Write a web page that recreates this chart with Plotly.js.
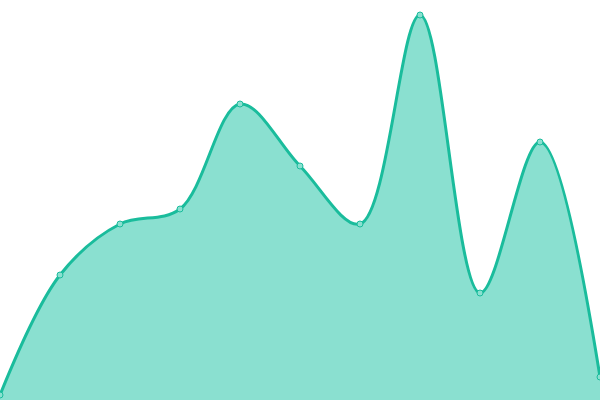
<!DOCTYPE html>
<html><head><meta charset="utf-8">
<script src="https://cdn.plot.ly/plotly-3.0.1.min.js"></script>
<style>html,body{margin:0;padding:0;background:#fff}#chart{width:600px;height:400px}</style>
</head><body><div id="chart"></div>
<script>
const xValues = [0, 1, 2, 3, 4, 5, 6, 7, 8, 9, 10];
const yValues = [5, 125, 176, 191, 296, 234, 176, 385, 107, 258, 23];

Plotly.newPlot('chart', [{
  x: xValues,
  y: yValues,
  type: 'scatter',
  mode: 'lines+markers',
  fill: 'tozeroy',
  fillcolor: '#8ae0d0',
  line: {color: '#1abc9c', width: 3, shape: 'spline', smoothing: 1},
  marker: {size: 6, color: '#8ae0d0', line: {color: '#1abc9c', width: 1}},
  cliponaxis: false,
  hoverinfo: 'none'
}], {
  width: 600, height: 400,
  margin: {l: 0, r: 0, t: 0, b: 0},
  paper_bgcolor: '#fff', plot_bgcolor: '#fff',
  showlegend: false,
  xaxis: {range: [0, 10], visible: false, fixedrange: true},
  yaxis: {range: [0, 400], visible: false, fixedrange: true}
}, {displayModeBar: false, staticPlot: true});
</script></body></html>
